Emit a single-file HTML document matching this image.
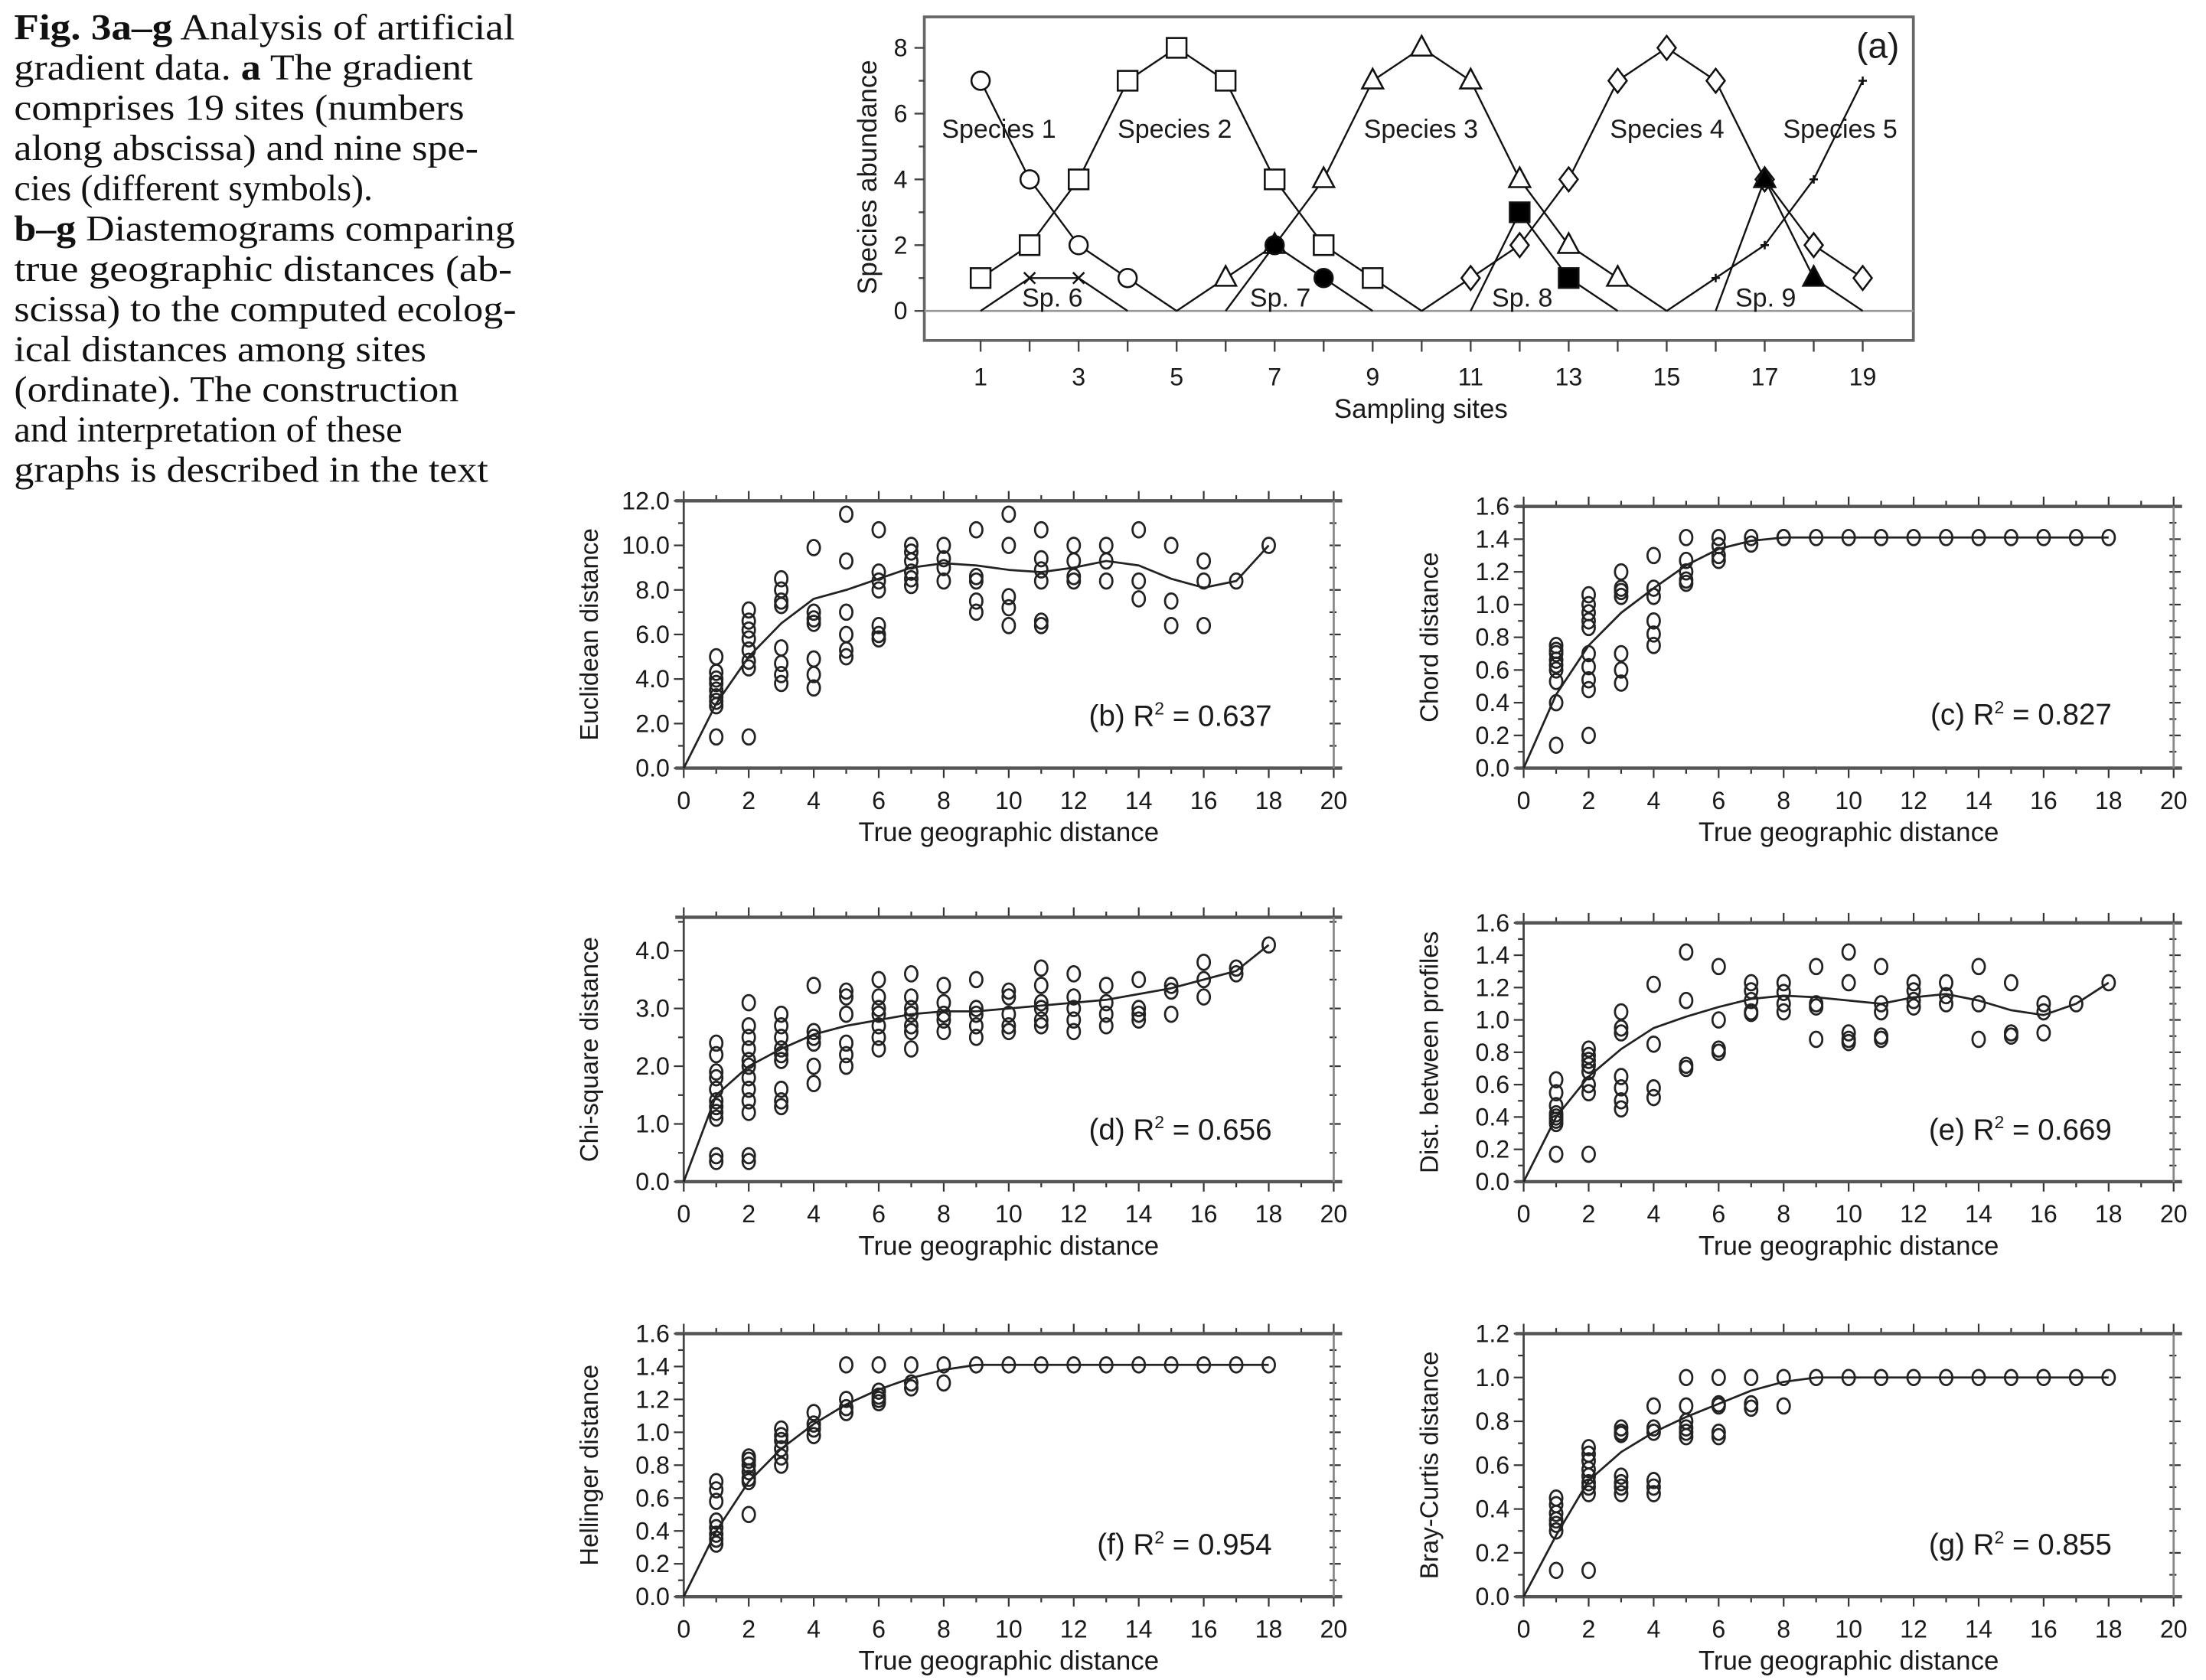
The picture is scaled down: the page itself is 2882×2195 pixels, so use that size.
<!DOCTYPE html>
<html><head><meta charset="utf-8"><style>
html,body{margin:0;padding:0;background:#fff;}
svg{display:block;}
text{font-family:"Liberation Sans",Arial,sans-serif;fill:#1a1a1a;}
.cap{font-family:"Liberation Serif","Times New Roman",serif;font-size:26px;fill:#111;}
</style></head><body>
<svg id="fig" width="2882" height="2195" viewBox="0 0 1568 1194.2" xmlns="http://www.w3.org/2000/svg">
<g id="caption">
<text class="cap" x="10" y="28" textLength="356" lengthAdjust="spacingAndGlyphs"><tspan font-weight="bold">Fig. 3a–g</tspan>  Analysis of artificial</text>
<text class="cap" x="10" y="56.6" textLength="326" lengthAdjust="spacingAndGlyphs">gradient data. <tspan font-weight="bold">a</tspan> The gradient</text>
<text class="cap" x="10" y="85.2" textLength="320" lengthAdjust="spacingAndGlyphs">comprises 19 sites (numbers</text>
<text class="cap" x="10" y="113.8" textLength="330" lengthAdjust="spacingAndGlyphs">along abscissa) and nine spe-</text>
<text class="cap" x="10" y="142.4" textLength="255" lengthAdjust="spacingAndGlyphs">cies (different symbols).</text>
<text class="cap" x="10" y="171" textLength="356" lengthAdjust="spacingAndGlyphs"><tspan font-weight="bold">b–g</tspan> Diastemograms comparing</text>
<text class="cap" x="10" y="199.6" textLength="354" lengthAdjust="spacingAndGlyphs">true geographic distances (ab-</text>
<text class="cap" x="10" y="228.2" textLength="357" lengthAdjust="spacingAndGlyphs">scissa) to the computed ecolog-</text>
<text class="cap" x="10" y="256.8" textLength="293" lengthAdjust="spacingAndGlyphs">ical distances among sites</text>
<text class="cap" x="10" y="285.4" textLength="316" lengthAdjust="spacingAndGlyphs">(ordinate). The construction</text>
<text class="cap" x="10" y="314" textLength="276" lengthAdjust="spacingAndGlyphs">and interpretation of these</text>
<text class="cap" x="10" y="342.6" textLength="337" lengthAdjust="spacingAndGlyphs">graphs is described in the text</text>
</g>
</svg>
<script>
// ---------- Panel (a) data ----------
const sites = [1,2,3,4,5,6,7,8,9,10,11,12,13,14,15,16,17,18,19];
const sp1 = [7,4,2,1,0,null,null,null,null,null,null,null,null,null,null,null,null,null,null];
const sp2 = [1,2,4,7,8,7,4,2,1,0,null,null,null,null,null,null,null,null,null];
const sp3 = [null,null,null,null,0,1,2,4,7,8,7,4,2,1,0,null,null,null,null];
const sp4 = [null,null,null,null,null,null,null,null,null,0,1,2,4,7,8,7,4,2,1];
const sp5 = [null,null,null,null,null,null,null,null,null,null,null,null,null,null,0,1,2,4,7];
const sp6 = [0,1,1,0,null,null,null,null,null,null,null,null,null,null,null,null,null,null,null];
const sp7 = [null,null,null,null,null,0,2,1,0,null,null,null,null,null,null,null,null,null,null];
const sp8 = [null,null,null,null,null,null,null,null,null,null,0,3,1,0,null,null,null,null,null];
const sp9 = [null,null,null,null,null,null,null,null,null,null,null,null,null,null,null,0,4,1,0];
const abundTicks = [0,2,4,6,8];
const siteTickLabels = [1,3,5,7,9,11,13,15,17,19];

// ---------- Panels b-g data (values grouped by true geographic distance 1..18) ----------
const geoDist = [1,2,3,4,5,6,7,8,9,10,11,12,13,14,15,16,17,18];
const curveDist = [0,1,2,3,4,5,6,7,8,9,10,11,12,13,14,15,16,17,18];
const xTickLabels = [0,2,4,6,8,10,12,14,16,18,20];

const euclidVals = [[5.0,4.3,4.0,3.8,3.5,3.2,3.0,2.8,1.4],[7.1,6.6,6.2,5.8,5.3,4.8,4.5,1.4],[8.5,8.0,7.5,7.3,5.4,4.7,4.2,3.8],[9.9,7.0,6.7,6.5,4.9,4.2,3.6],[11.4,9.3,7.0,6.0,5.3,5.0],[10.7,8.8,8.4,8.0,6.4,6.0,5.8],[10.0,9.7,9.3,8.8,8.5,8.2],[10.0,9.4,9.0,8.4],[10.7,8.6,8.4,7.5,7.0],[11.4,10.0,7.7,7.2,6.4],[10.7,9.4,8.9,8.4,6.6,6.4],[10.0,9.3,8.6,8.4],[10.0,9.3,8.4],[10.7,8.4,7.6],[10.0,7.5,6.4],[9.3,8.4,6.4],[8.4],[10.0]];
const euclidCurve = [0,2.9,5.0,6.5,7.6,8.0,8.5,9.0,9.2,9.1,8.9,8.8,9.0,9.3,9.1,8.5,8.1,8.4,10.0];
const euclidTicks = ["0.0","2.0","4.0","6.0","8.0","10.0","12.0"];

const chordVals = [[0.75,0.72,0.7,0.66,0.63,0.6,0.53,0.4,0.14],[1.06,1.0,0.95,0.9,0.86,0.7,0.62,0.54,0.48,0.2],[1.2,1.1,1.08,1.05,0.7,0.6,0.52],[1.3,1.1,1.05,0.9,0.82,0.75],[1.41,1.27,1.2,1.15,1.13],[1.41,1.36,1.3,1.27],[1.41,1.37],[1.41,1.41],[1.41],[1.41],[1.41],[1.41],[1.41],[1.41],[1.41],[1.41],[1.41],[1.41]];
const chordCurve = [0,0.45,0.75,0.95,1.1,1.24,1.34,1.39,1.41,1.41,1.41,1.41,1.41,1.41,1.41,1.41,1.41,1.41,1.41];
const ticks16 = ["0.0","0.2","0.4","0.6","0.8","1.0","1.2","1.4","1.6"];

const chiVals = [[2.4,2.2,1.9,1.8,1.6,1.4,1.3,1.2,1.1,0.45,0.35],[3.1,2.7,2.5,2.3,2.1,2.0,1.8,1.6,1.4,1.2,0.45,0.35],[2.9,2.7,2.5,2.3,2.2,2.1,1.6,1.4,1.3],[3.4,2.6,2.5,2.4,2.0,1.7],[3.3,3.2,2.9,2.4,2.2,2.0],[3.5,3.2,3.0,2.9,2.7,2.5,2.3],[3.6,3.2,3.0,2.9,2.7,2.6,2.3],[3.4,3.1,2.9,2.8,2.6],[3.5,3.0,2.9,2.7,2.5],[3.3,3.2,2.9,2.7,2.6],[3.7,3.4,3.1,3.0,2.8,2.7],[3.6,3.2,3.0,2.8,2.6],[3.4,3.1,2.9,2.7],[3.5,3.0,2.9,2.8],[3.4,3.3,2.9],[3.8,3.5,3.2],[3.7,3.6],[4.1]];
const chiCurve = [0,1.5,2.0,2.3,2.55,2.7,2.8,2.9,2.95,2.95,3.0,3.05,3.1,3.15,3.25,3.35,3.5,3.65,4.1];
const chiTicks = ["0.0","1.0","2.0","3.0","4.0"];

const profVals = [[0.63,0.55,0.47,0.42,0.4,0.38,0.36,0.17],[0.82,0.78,0.75,0.72,0.68,0.6,0.55,0.17],[1.05,0.95,0.92,0.65,0.58,0.5,0.45],[1.22,0.85,0.58,0.52],[1.42,1.12,0.72,0.7],[1.33,1.0,0.82,0.8],[1.23,1.18,1.12,1.05,1.04],[1.23,1.17,1.1,1.05],[1.33,1.1,1.08,0.88],[1.42,1.23,0.92,0.88,0.86],[1.33,1.1,1.05,0.9,0.88],[1.23,1.18,1.12,1.08],[1.23,1.15,1.1],[1.33,1.1,0.88],[1.23,0.92,0.9],[1.1,1.05,0.92],[1.1],[1.23]];
const profCurve = [0,0.4,0.65,0.82,0.95,1.02,1.08,1.13,1.15,1.14,1.12,1.1,1.14,1.16,1.12,1.06,1.03,1.1,1.23];

const hellVals = [[0.7,0.65,0.58,0.46,0.42,0.38,0.35,0.32],[0.85,0.83,0.8,0.76,0.72,0.7,0.5],[1.02,0.98,0.95,0.9,0.85,0.8],[1.12,1.05,1.02,0.98],[1.41,1.2,1.15,1.12],[1.41,1.25,1.22,1.2,1.18],[1.41,1.3,1.27],[1.41,1.3],[1.41],[1.41],[1.41],[1.41],[1.41],[1.41],[1.41],[1.41],[1.41],[1.41]];
const hellCurve = [0,0.4,0.7,0.9,1.05,1.17,1.26,1.33,1.38,1.41,1.41,1.41,1.41,1.41,1.41,1.41,1.41,1.41,1.41];

const brayVals = [[0.45,0.42,0.38,0.35,0.33,0.3,0.12],[0.68,0.65,0.62,0.58,0.55,0.52,0.5,0.47,0.12],[0.77,0.75,0.74,0.55,0.52,0.5,0.47],[0.87,0.77,0.75,0.53,0.5,0.47],[1.0,0.87,0.8,0.77,0.75,0.73],[1.0,0.88,0.87,0.75,0.73],[1.0,0.88,0.86],[1.0,0.87],[1.0],[1.0],[1.0],[1.0],[1.0],[1.0],[1.0],[1.0],[1.0],[1.0]];
const brayCurve = [0,0.28,0.53,0.66,0.75,0.82,0.88,0.94,0.98,1.0,1.0,1.0,1.0,1.0,1.0,1.0,1.0,1.0,1.0];
const brayTicks = ["0.0","0.2","0.4","0.6","0.8","1.0","1.2"];

const NS = "http://www.w3.org/2000/svg";
const svg = document.getElementById('fig');
function mk(tag, attrs, parent){
  const e = document.createElementNS(NS, tag);
  for (const k in attrs) e.setAttribute(k, attrs[k]);
  (parent||svg).appendChild(e);
  return e;
}

// ================= Panel (a) =================
(function(){
  const g = mk('g', {});
  
  
  const L=657, R=1360, T=12, B=242;
  const sx = s => 697 + (s-1)*(1324-697)/18;
  const sy = v => 221 - v*(221-34)/8;
  mk('rect', {x:L,y:T,width:R-L,height:B-T,fill:'none',stroke:'#666','stroke-width':2}, g);
  mk('line', {x1:L,y1:sy(0),x2:R,y2:sy(0),stroke:'#999','stroke-width':1.5}, g);
  for (let v=0; v<=8; v++){
    mk('line',{x1:L-(v%2?4:7),y1:sy(v),x2:L,y2:sy(v),stroke:'#444','stroke-width':1.3},g);
  }
  abundTicks.forEach(v=>{
    const t = mk('text',{x:L-12,y:sy(v)+6,'text-anchor':'end','font-size':17.5},g);
    t.textContent = v;
    
    
  });
  sites.forEach(s=>{
    mk('line',{x1:sx(s),y1:B,x2:sx(s),y2:B+8,stroke:'#444','stroke-width':1.3},g);
  });
  siteTickLabels.forEach(s=>{
    const t = mk('text',{x:sx(s),y:274,'text-anchor':'middle','font-size':17.5},g);
    t.textContent = s;
    
    
  });
  const xt = mk('text',{x:1010,y:297,'text-anchor':'middle','font-size':19},g);
  xt.textContent = 'Sampling sites';
  
  
  const yt = mk('text',{x:0,y:0,'text-anchor':'middle','font-size':19,transform:'translate(623,126) rotate(-90)'},g);
  yt.textContent = 'Species abundance';
  
  
  const pa = mk('text',{x:1350,y:41,'text-anchor':'end','font-size':25},g);
  pa.textContent = '(a)';
  
  

  const species = [
    {vals:sp1, m:'circle'},{vals:sp2, m:'square'},{vals:sp3, m:'triangle'},
    {vals:sp4, m:'diamond'},{vals:sp5, m:'plus'},{vals:sp6, m:'cross'},
    {vals:sp7, m:'fcircle'},{vals:sp8, m:'fsquare'},{vals:sp9, m:'ftriangle'}];
  species.forEach((sp,i)=>{
    const pts=[];
    sp.vals.forEach((v,j)=>{ if(v!==null) pts.push([sx(sites[j]), sy(v), v]); });
    const line = mk('polyline',{points:pts.map(p=>p[0]+','+p[1]).join(' '),fill:'none',stroke:'#111','stroke-width':1.3},g);
    
    
    pts.forEach(p=>{
      if (p[2]===0) return;
      const [x,y]=p; let e;
      const st={stroke:'#111','stroke-width':1.4};
      if (sp.m==='circle') e=mk('circle',Object.assign({cx:x,cy:y,r:6.5,fill:'#fff'},st),g);
      else if (sp.m==='fcircle') e=mk('circle',Object.assign({cx:x,cy:y,r:6.5,fill:'#000'},st),g);
      else if (sp.m==='square') e=mk('rect',Object.assign({x:x-7,y:y-7,width:14,height:14,fill:'#fff'},st),g);
      else if (sp.m==='fsquare') e=mk('rect',Object.assign({x:x-7,y:y-7,width:14,height:14,fill:'#000'},st),g);
      else if (sp.m==='triangle') e=mk('polygon',Object.assign({points:`${x},${y-8.5} ${x-7.5},${y+5.5} ${x+7.5},${y+5.5}`,fill:'#fff'},st),g);
      else if (sp.m==='ftriangle') e=mk('polygon',Object.assign({points:`${x},${y-8.5} ${x-7.5},${y+5.5} ${x+7.5},${y+5.5}`,fill:'#000'},st),g);
      else if (sp.m==='diamond') e=mk('polygon',Object.assign({points:`${x},${y-8.5} ${x+6.5},${y} ${x},${y+8.5} ${x-6.5},${y}`,fill:'#fff'},st),g);
      else if (sp.m==='plus') e=mk('path',Object.assign({d:`M${x-3},${y}H${x+3}M${x},${y-3}V${y+3}`,fill:'none'},st),g);
      else e=mk('path',Object.assign({d:`M${x-4},${y-4}L${x+4},${y+4}M${x+4},${y-4}L${x-4},${y+4}`,fill:'none'},st),g);
      
      
    });
  });
  const labels=[['Species 1',710,98],['Species 2',835,98],['Species 3',1010,98],['Species 4',1185,98],['Species 5',1308,98],['Sp. 6',748,218],['Sp. 7',910,218],['Sp. 8',1082,218],['Sp. 9',1255,218]];
  labels.forEach(l=>{
    const t=mk('text',{x:l[1],y:l[2],'text-anchor':'middle','font-size':18.5},g);
    t.textContent=l[0];
    
    
  });
})();

// ================= Panels b-g =================
function panel(cfg){
  const g = mk('g', {});
  
  
  const L=cfg.L, R=cfg.L+462, T=cfg.T, B=cfg.B;
  const px = d => L + d*(R-L)/20;
  const py = v => B - v*(B-T)/cfg.ymax;
  for (let d=0; d<=20; d++){
    const len = d%2?4:7;
    mk('line',{x1:px(d),y1:B,x2:px(d),y2:B+len,stroke:'#333','stroke-width':1.2},g);
    mk('line',{x1:px(d),y1:T,x2:px(d),y2:T-len,stroke:'#333','stroke-width':1.2},g);
  }
  const nMinor = Math.round(cfg.ymax/cfg.minor);
  for (let k=0; k<=nMinor; k++){
    const v = k*cfg.minor; const len = k%2?4:7;
    mk('line',{x1:L-len,y1:py(v),x2:L,y2:py(v),stroke:'#333','stroke-width':1.2},g);
    mk('line',{x1:R-3,y1:py(v),x2:R+len-2,y2:py(v),stroke:'#333','stroke-width':1.2},g);
  }
  mk('line',{x1:L-6,y1:B,x2:R+6,y2:B,stroke:'#555','stroke-width':2.4},g);
  mk('line',{x1:L-6,y1:T,x2:R+6,y2:T,stroke:'#555','stroke-width':2.4},g);
  mk('line',{x1:L,y1:T,x2:L,y2:B,stroke:'#444','stroke-width':1.5},g);
  mk('line',{x1:R,y1:T,x2:R,y2:B,stroke:'#888','stroke-width':1.5},g);
  cfg.ticks.forEach((lab,k)=>{
    const t=mk('text',{x:L-10,y:py(k*cfg.step)+6,'text-anchor':'end','font-size':17.5},g);
    t.textContent=lab;
    
    
  });
  xTickLabels.forEach(d=>{
    const t=mk('text',{x:px(d),y:B+29,'text-anchor':'middle','font-size':17.5},g);
    t.textContent=d;
    
    
  });
  const xt=mk('text',{x:L+231,y:B+52,'text-anchor':'middle','font-size':19},g);
  xt.textContent='True geographic distance';
  
  
  const yt=mk('text',{x:0,y:0,'text-anchor':'middle','font-size':18,transform:`translate(${L-61},${(T+B)/2}) rotate(-90)`},g);
  yt.textContent=cfg.ytitle;
  
  
  const cp = curveDist.map((d,i)=>px(d)+','+py(cfg.curve[i])).join(' ');
  const c = mk('polyline',{points:cp,fill:'none',stroke:'#222','stroke-width':1.5,'stroke-linejoin':'round'},g);
  
  
  cfg.vals.forEach((arr,i)=>{
    arr.forEach(v=>{
      const e=mk('ellipse',{cx:px(geoDist[i]),cy:py(v),rx:4.4,ry:5.4,fill:'none',stroke:'#222','stroke-width':1.5},g);
      
      
    });
  });
  const an=mk('text',{x:R-44,y:cfg.annY,'text-anchor':'end','font-size':21},g);
  an.innerHTML = `${cfg.tag} R<tspan font-size="12.5" dy="-8">2</tspan><tspan dy="8"> = ${cfg.r2}</tspan>`;
  
  
}
panel({name:'panel-b-euclidean',L:486,T:356,B:546,ymax:12,step:2,minor:1,ticks:euclidTicks,vals:euclidVals,curve:euclidCurve,ytitle:'Euclidean distance',tag:'(b)',r2:'0.637',annY:516});
panel({name:'panel-c-chord',L:1083,T:360,B:546,ymax:1.6,step:0.2,minor:0.1,ticks:ticks16,vals:chordVals,curve:chordCurve,ytitle:'Chord distance',tag:'(c)',r2:'0.827',annY:515});
panel({name:'panel-d-chi-square',L:486,T:652,B:840,ymax:4.58,step:1,minor:0.5,ticks:chiTicks,vals:chiVals,curve:chiCurve,ytitle:'Chi-square distance',tag:'(d)',r2:'0.656',annY:810});
panel({name:'panel-e-profiles',L:1083,T:656,B:840,ymax:1.6,step:0.2,minor:0.1,ticks:ticks16,vals:profVals,curve:profCurve,ytitle:'Dist. between profiles',tag:'(e)',r2:'0.669',annY:810});
panel({name:'panel-f-hellinger',L:486,T:948,B:1135,ymax:1.6,step:0.2,minor:0.1,ticks:ticks16,vals:hellVals,curve:hellCurve,ytitle:'Hellinger distance',tag:'(f)',r2:'0.954',annY:1105});
panel({name:'panel-g-bray-curtis',L:1083,T:948,B:1135,ymax:1.2,step:0.2,minor:0.1,ticks:brayTicks,vals:brayVals,curve:brayCurve,ytitle:'Bray-Curtis distance',tag:'(g)',r2:'0.855',annY:1105});
</script>
</body></html>
